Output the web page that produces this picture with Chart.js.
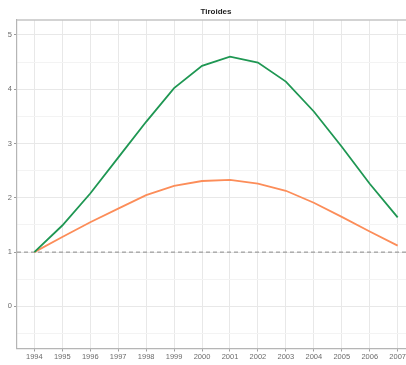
<!DOCTYPE html>
<html>
<head>
<meta charset="utf-8">
<script src="https://cdn.jsdelivr.net/npm/chart.js@4/dist/chart.umd.min.js"></script>
<style>
  html, body { margin: 0; padding: 0; background: #ffffff; overflow: hidden; }
  #wrap { width: 406px; height: 365px; overflow: hidden; }
  canvas { display: block; }
</style>
</head>
<body>
<div id="wrap"><canvas id="chart" width="415" height="365"></canvas></div>
<script>
// Years on the horizontal axis
const years = [1994, 1995, 1996, 1997, 1998, 1999, 2000, 2001, 2002, 2003, 2004, 2005, 2006, 2007];
// Relative index for the two series (1994 = 1)
const serieA = [1.00, 1.49, 2.08, 2.74, 3.40, 4.02, 4.43, 4.60, 4.49, 4.14, 3.59, 2.94, 2.26, 1.64];
const serieB = [1.00, 1.28, 1.55, 1.80, 2.05, 2.22, 2.31, 2.33, 2.26, 2.13, 1.91, 1.65, 1.38, 1.12];
// Reference level drawn as a dashed line
const baseline = 1;
// Y ticks: labelled integers plus unlabelled half steps for minor grid
const yTicks = [-0.5, 0, 0.5, 1, 1.5, 2, 2.5, 3, 3.5, 4, 4.5, 5];
const yLabels = ["0", "1", "2", "3", "4", "5"];
const title = "Tiroides";

const xMin = 1993.38, xMax = 2007.62;
const yMin = -0.775, yMax = 5.275;

const toPoints = (vals) => vals.map((v, i) => ({ x: years[i], y: v }));

const panelTop = {
  id: 'panelTop',
  afterDraw(chart) {
    const { ctx, chartArea } = chart;
    ctx.save();
    ctx.strokeStyle = '#c4c4c4';
    ctx.lineWidth = 1.4;
    ctx.beginPath();
    ctx.moveTo(chartArea.left, chartArea.top);
    ctx.lineTo(chartArea.right, chartArea.top);
    ctx.stroke();
    ctx.restore();
  }
};

const isMajor = (v) => Math.abs(v - Math.round(v)) < 1e-9;
const labelFont = { family: 'Liberation Sans, Arial, sans-serif', size: 7.5 };

new Chart(document.getElementById('chart'), {
  type: 'line',
  data: {
    datasets: [
      {
        label: 'referencia',
        data: [{ x: xMin, y: baseline }, { x: xMax, y: baseline }],
        borderColor: '#8a8a8a',
        borderWidth: 1,
        borderDash: [4, 3],
        pointRadius: 0,
        order: 3
      },
      {
        label: 'B',
        data: toPoints(serieB),
        borderColor: '#fc8d59',
        borderWidth: 1.8,
        pointRadius: 0,
        tension: 0,
        order: 2
      },
      {
        label: 'A',
        data: toPoints(serieA),
        borderColor: '#1f9753',
        borderWidth: 1.8,
        pointRadius: 0,
        tension: 0,
        order: 1
      }
    ]
  },
  options: {
    responsive: false,
    devicePixelRatio: 1,
    animation: false,
    layout: { padding: 0 },
    plugins: {
      legend: { display: false },
      tooltip: { enabled: false },
      title: {
        display: true,
        text: title,
        fullSize: false,
        color: '#1e1e1e',
        font: { family: 'Liberation Sans, Arial, sans-serif', size: 8, weight: 'bold', lineHeight: 1.2 },
        padding: { top: 7, bottom: 3.4 }
      }
    },
    scales: {
      x: {
        type: 'linear',
        min: xMin,
        max: xMax,
        afterBuildTicks(scale) { scale.ticks = years.map(v => ({ value: v })); },
        afterFit(scale) { scale.height = 16.5; },
        ticks: {
          autoSkip: false,
          maxRotation: 0,
          padding: 1,
          color: '#6b6b6b',
          font: labelFont,
          callback: (v) => String(v)
        },
        grid: {
          color: '#e8e8e8',
          lineWidth: 1,
          tickLength: 3,
          tickColor: '#9a9a9a',
          drawOnChartArea: true
        },
        border: { color: '#b5b5b5', width: 1.2 }
      },
      y: {
        type: 'linear',
        min: yMin,
        max: yMax,
        afterBuildTicks(scale) { scale.ticks = yTicks.map(v => ({ value: v })); },
        afterFit(scale) { scale.width = 17; },
        ticks: {
          autoSkip: false,
          padding: 2,
          color: '#6b6b6b',
          font: labelFont,
          callback: (v) => isMajor(v) ? yLabels[yLabels.indexOf(String(Math.round(v)))] : ''
        },
        grid: {
          color: (c) => isMajor(c.tick.value) ? '#e8e8e8' : '#f3f3f3',
          lineWidth: 1,
          tickLength: 3,
          tickColor: (c) => isMajor(c.tick.value) ? '#9a9a9a' : 'rgba(0,0,0,0)'
        },
        border: { color: '#b5b5b5', width: 1.2 }
      }
    }
  },
  plugins: [panelTop]
});
</script>
</body>
</html>
